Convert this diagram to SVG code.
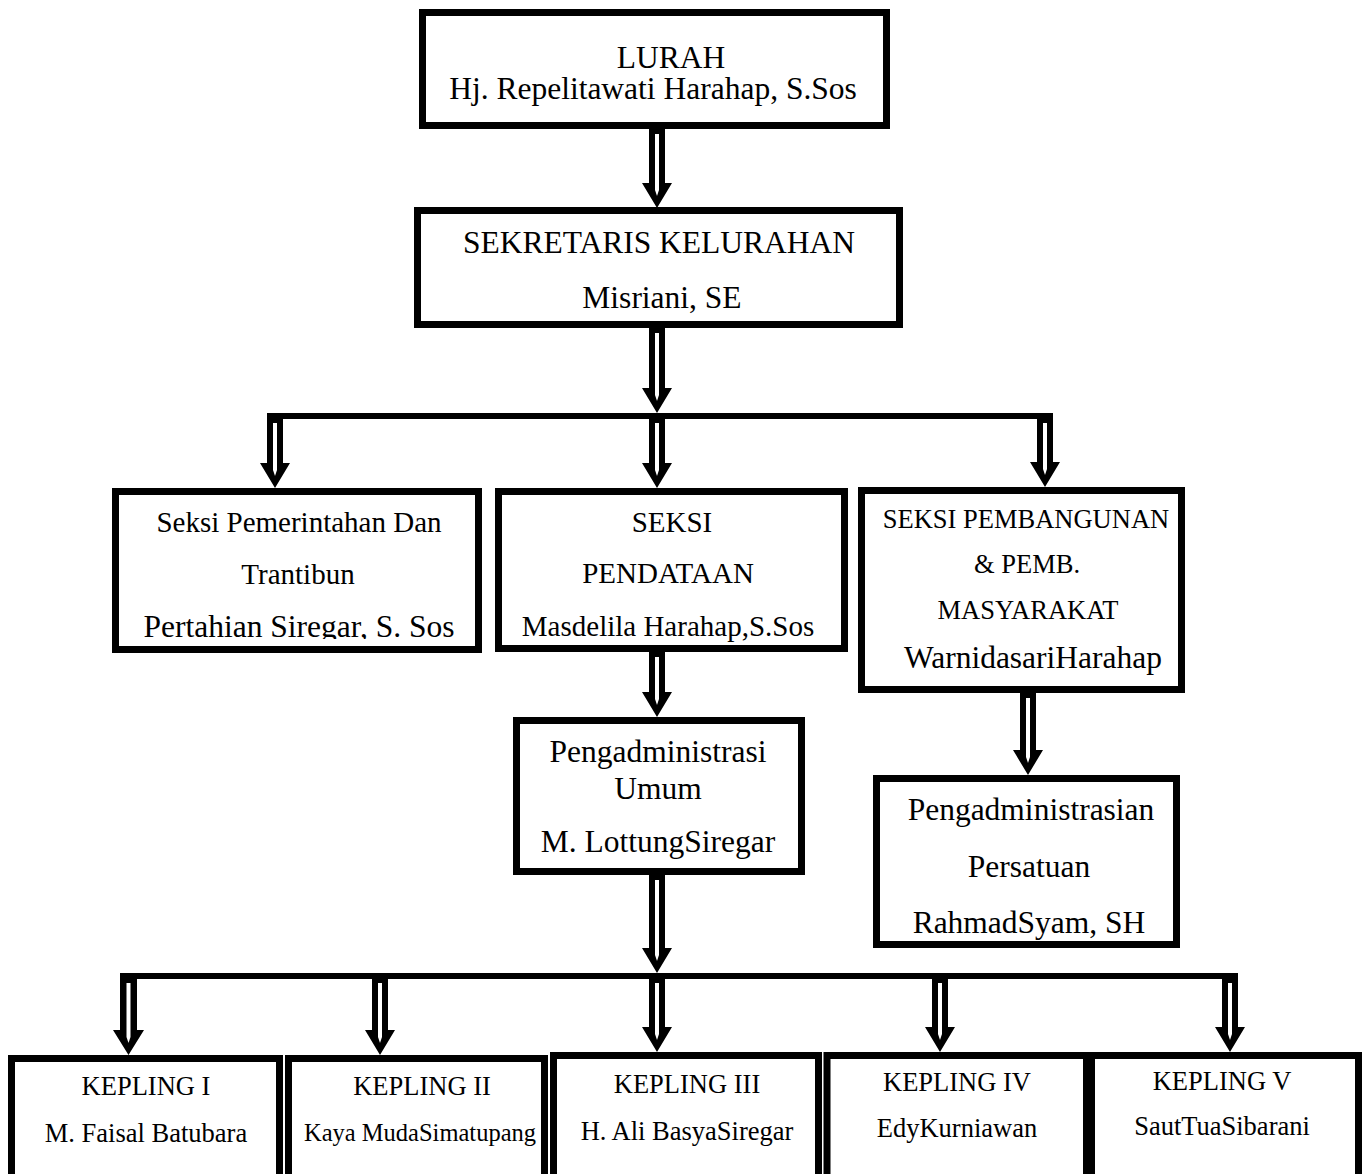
<svg xmlns="http://www.w3.org/2000/svg" width="1366" height="1174" viewBox="0 0 1366 1174">
<style>
.box{fill:#fff;stroke:#000;stroke-width:7}
.frame{fill:none;stroke:#000;stroke-width:7}
.bus{stroke:#000;stroke-width:6;fill:none}
.ao{fill:#000}
.ai{fill:#fff}
text{font-family:"Liberation Serif","Times New Roman",serif;fill:#000;text-anchor:middle}
.f32{font-size:31.5px}
.f29{font-size:29px}
.f27{font-size:26.5px}
.f26{font-size:26.5px}
.f24{font-size:24.5px}
</style>
<defs>
<clipPath id="clipA"><rect x="115" y="491" width="363" height="148"/></clipPath>
</defs>
<rect width="1366" height="1174" fill="#fff"/>
<g id="connectors">
<path class="bus" d="M267,416H1053"/>
<path class="bus" d="M120,976H1238"/>
<path class="ao" d="M649,126H665V183H672L657,208L642,183H649Z"/>
<path class="ai" d="M655,134H659V190L657,196L655,190Z"/>
<path class="ao" d="M649,325H665V388H672L657,413L642,388H649Z"/>
<path class="ai" d="M655,333H659V395L657,401L655,395Z"/>
<path class="ao" d="M267,413H283V463H290L275,488L260,463H267Z"/>
<path class="ai" d="M273,423H277V470L275,476L273,470Z"/>
<path class="ao" d="M649,416H665V463H672L657,488L642,463H649Z"/>
<path class="ai" d="M655,423H659V470L657,476L655,470Z"/>
<path class="ao" d="M1037,413H1053V462H1060L1045,487L1030,462H1037Z"/>
<path class="ai" d="M1043,423H1047V469L1045,475L1043,469Z"/>
<path class="ao" d="M649,649H665V692H672L657,717L642,692H649Z"/>
<path class="ai" d="M655,657H659V699L657,705L655,699Z"/>
<path class="ao" d="M1020,690H1036V750H1043L1028,775L1013,750H1020Z"/>
<path class="ai" d="M1026,698H1030V757L1028,763L1026,757Z"/>
<path class="ao" d="M649,872H665V948H672L657,973L642,948H649Z"/>
<path class="ai" d="M655,880H659V955L657,961L655,955Z"/>
<path class="ao" d="M120,973H137V1030H144L128.5,1055L113,1030H120Z"/>
<path class="ai" d="M126.5,983H130.5V1037L128.5,1043L126.5,1037Z"/>
<path class="ao" d="M372,976H388V1030H395L380,1055L365,1030H372Z"/>
<path class="ai" d="M378,983H382V1037L380,1043L378,1037Z"/>
<path class="ao" d="M649,976H665V1027H672L657,1052L642,1027H649Z"/>
<path class="ai" d="M655,983H659V1034L657,1040L655,1034Z"/>
<path class="ao" d="M932,976H948V1027H955L940,1052L925,1027H932Z"/>
<path class="ai" d="M938,983H942V1034L940,1040L938,1034Z"/>
<path class="ao" d="M1222,973H1238V1027H1245L1230,1052L1215,1027H1222Z"/>
<path class="ai" d="M1228,983H1232V1034L1230,1040L1228,1034Z"/>
</g>
<g id="n-lurah">
<rect class="box" x="422.5" y="12.5" width="464" height="113"/>
<text class="f32" x="671" y="68">LURAH</text>
<text class="f32" x="653" y="99">Hj. Repelitawati Harahap, S.Sos</text>
</g>
<g id="n-sekretaris">
<rect class="box" x="417.5" y="210.5" width="482" height="114"/>
<text class="f32" x="659" y="253">SEKRETARIS KELURAHAN</text>
<text class="f32" x="662" y="308">Misriani, SE</text>
</g>
<g id="n-pemerintahan">
<rect class="box" x="115.5" y="491.5" width="363" height="158"/>
<text class="f29" x="299" y="532">Seksi  Pemerintahan Dan</text>
<text class="f29" x="298" y="584">Trantibun</text>
<text class="f32" x="299" y="637" clip-path="url(#clipA)">Pertahian Siregar, S. Sos</text>
<rect class="frame" x="115.5" y="491.5" width="363" height="158"/>
</g>
<g id="n-pendataan">
<rect class="box" x="498.5" y="491.5" width="346" height="157"/>
<text class="f29" x="672" y="532">SEKSI</text>
<text class="f29" x="668" y="583">PENDATAAN</text>
<text class="f29" x="668" y="636">Masdelila Harahap,S.Sos</text>
</g>
<g id="n-pembangunan">
<rect class="box" x="861.5" y="490.5" width="320" height="199"/>
<text class="f27" x="1026" y="528">SEKSI PEMBANGUNAN</text>
<text class="f27" x="1027" y="573">&amp; PEMB.</text>
<text class="f27" x="1028" y="619">MASYARAKAT</text>
<text class="f32" x="1033" y="668">WarnidasariHarahap</text>
</g>
<g id="n-umum">
<rect class="box" x="516.5" y="720.5" width="285" height="151"/>
<text class="f32" x="658" y="762">Pengadministrasi</text>
<text class="f32" x="658" y="799">Umum</text>
<text class="f32" x="658" y="852">M. LottungSiregar</text>
</g>
<g id="n-persatuan">
<rect class="box" x="876.5" y="778.5" width="300" height="166"/>
<text class="f32" x="1031" y="820">Pengadministrasian</text>
<text class="f32" x="1029" y="877">Persatuan</text>
<text class="f32" x="1029" y="933">RahmadSyam, SH</text>
</g>
<g id="n-kepling1">
<rect class="box" x="11.5" y="1058.5" width="268" height="130"/>
<text class="f26" x="146" y="1095">KEPLING I</text>
<text class="f26" x="146" y="1142">M. Faisal Batubara</text>
</g>
<g id="n-kepling2">
<rect class="box" x="288.5" y="1058.5" width="256" height="130"/>
<text class="f26" x="422" y="1095">KEPLING II</text>
<text class="f24" x="420" y="1141">Kaya MudaSimatupang</text>
</g>
<g id="n-kepling3">
<rect class="box" x="553.5" y="1055.5" width="265" height="130"/>
<text class="f26" x="687" y="1093">KEPLING III</text>
<text class="f26" x="687" y="1140">H. Ali BasyaSiregar</text>
</g>
<g id="n-kepling4">
<rect class="box" x="827" y="1055.5" width="259.5" height="130"/>
<text class="f26" x="957" y="1091">KEPLING IV</text>
<text class="f26" x="957" y="1137">EdyKurniawan</text>
</g>
<g id="n-kepling5">
<rect class="box" x="1091.5" y="1055.5" width="267" height="130"/>
<text class="f26" x="1222" y="1090">KEPLING V</text>
<text class="f26" x="1222" y="1135">SautTuaSibarani</text>
</g>
</svg>
